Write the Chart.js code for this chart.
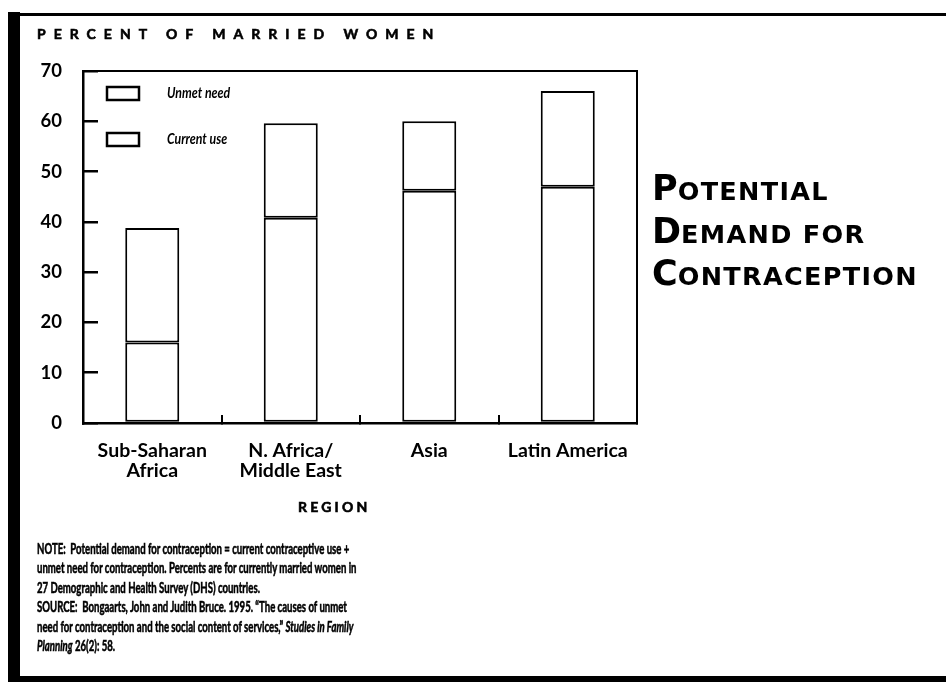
<!DOCTYPE html>
<html>
<head>
<meta charset="utf-8">
<script src="https://cdn.jsdelivr.net/npm/chart.js@4/dist/chart.umd.min.js"></script>
<style>
  html, body { margin: 0; padding: 0; background: #fff; }
  #wrap { position: relative; width: 946px; height: 682px; overflow: hidden; background: #fff; }
  #chartBox { position: absolute; left: 0; top: 0; width: 946px; height: 682px; }
  .frameL { position: absolute; left: 8px; top: 12px; width: 12px; height: 670px; background: #000; }
  .frameT { position: absolute; left: 18px; top: 13px; width: 928px; height: 3px; background: #000; }
  .frameB { position: absolute; left: 8px; top: 676px; width: 938px; height: 6px; background: #000; }
  .hdr { position: absolute; left: 37px; top: 25px; font-family: Lato, sans-serif; font-weight: bold; font-size: 14px; letter-spacing: 8px; color: #000; white-space: nowrap; -webkit-text-stroke: 0.6px #000; }
  .region { position: absolute; left: 298px; top: 498px; font-family: Lato, sans-serif; font-weight: bold; font-size: 14px; letter-spacing: 3.2px; color: #000; -webkit-text-stroke: 0.6px #000; }
  .rtitle { position: absolute; left: 652px; top: 167px; font-family: "DejaVu Sans", sans-serif; font-weight: bold; color: #000; white-space: nowrap; }
  .rtitle .ln { height: 42.5px; line-height: 42px; font-size: 35px; }
  .rtitle .b { font-size: 35px; }
  .rtitle .s { font-size: 25.5px; letter-spacing: 1.3px; }
  .notes { position: absolute; left: 37px; top: 539px; font-family: Lato, sans-serif; font-weight: bold; font-size: 15px; line-height: 19.4px; color: #000; white-space: nowrap; transform: scaleX(0.64); transform-origin: 0 0; -webkit-text-stroke: 0.55px #000; }
</style>
</head>
<body>
<div id="wrap">
  <div id="chartBox"><canvas id="c"></canvas></div>
  <div class="frameL"></div>
  <div class="frameT"></div>
  <div class="frameB"></div>
  <div class="hdr">PERCENT OF MARRIED WOMEN</div>
  <div class="region">REGION</div>
  <div class="rtitle">
    <div class="ln"><span class="b">P</span><span class="s">OTENTIAL</span></div>
    <div class="ln"><span class="b">D</span><span class="s">EMAND FOR</span></div>
    <div class="ln"><span class="b">C</span><span class="s">ONTRACEPTION</span></div>
  </div>
  <div class="notes">NOTE:&nbsp; Potential demand for contraception = current contraceptive use +<br>unmet need for contraception. Percents are for currently married women in<br>27 Demographic and Health Survey (DHS) countries.<br>SOURCE:&nbsp; Bongaarts, John and Judith Bruce. 1995. “The causes of unmet<br>need for contraception and the social content of services,” <i>Studies in Family<br>Planning</i> 26(2): 58.</div>
</div>
<script>
const categories = [["Sub-Saharan", "Africa"], ["N. Africa/", "Middle East"], "Asia", "Latin America"];
const currentUse = [16, 40.8, 46.2, 47];
const unmetNeed = [22.8, 18.8, 13.8, 19];
const yTicks = [0, 10, 20, 30, 40, 50, 60, 70];
const seriesNames = ["Current use", "Unmet need"];

const frameAndLegend = {
  id: 'frameAndLegend',
  afterDraw(chart) {
    const ctx = chart.ctx, a = chart.chartArea;
    ctx.save();
    ctx.strokeStyle = '#000';
    ctx.lineWidth = 2;
    ctx.beginPath();
    ctx.moveTo(a.left, a.top);
    ctx.lineTo(a.right, a.top);
    ctx.lineTo(a.right, a.bottom);
    ctx.stroke();
    const ds = chart.data.datasets;
    const order = [1, 0];
    ctx.font = 'italic bold 14.5px Lato, sans-serif';
    ctx.textBaseline = 'middle';
    order.forEach((idx, k) => {
      const y = a.top + 22 + k * 46;
      const x = a.left + 24;
      ctx.fillStyle = '#fff';
      ctx.fillRect(x, y - 6, 32, 13);
      ctx.lineWidth = 2.5;
      ctx.strokeRect(x, y - 6, 32, 13);
      ctx.fillStyle = '#000';
      ctx.save();
      ctx.translate(x + 60, y);
      ctx.scale(0.85, 1);
      ctx.fillText(ds[idx].label, 0, 0);
      ctx.restore();
    });
    ctx.restore();
  }
};

new Chart(document.getElementById('c'), {
  type: 'bar',
  data: {
    labels: categories,
    datasets: [
      { label: seriesNames[0], data: currentUse, backgroundColor: '#fff', borderColor: '#000', borderWidth: 2, borderSkipped: false },
      { label: seriesNames[1], data: unmetNeed, backgroundColor: '#fff', borderColor: '#000', borderWidth: 2, borderSkipped: false }
    ]
  },
  options: {
    responsive: true,
    maintainAspectRatio: false,
    animation: false,
    layout: { padding: { left: 20, right: 309, top: 71, bottom: 0 } },
    plugins: { legend: { display: false }, tooltip: { enabled: false }, title: { display: false } },
    datasets: { bar: { barPercentage: 0.39, categoryPercentage: 1.0 } },
    scales: {
      x: {
        stacked: true,
        afterFit(s) { s.height = 682 - 423; },
        grid: { display: true, offset: true, drawOnChartArea: false, drawTicks: true, tickLength: -8, color: '#000', lineWidth: 2 },
        border: { display: true, color: '#000', width: 2.5 },
        ticks: { color: '#000', padding: 26, font: { family: 'Lato, sans-serif', weight: 'bold', size: 19.5, lineHeight: 1.03 }, maxRotation: 0, autoSkip: false }
      },
      y: {
        stacked: true,
        min: 0, max: 70,
        afterFit(s) { s.width = 63; },
        afterBuildTicks(s) { s.ticks = yTicks.map(v => ({ value: v })); },
        grid: { display: true, drawOnChartArea: false, drawTicks: true, tickLength: -15, color: '#000', lineWidth: 2.5 },
        border: { display: true, color: '#000', width: 2.5 },
        ticks: { color: '#000', padding: 36, font: { family: 'Lato, sans-serif', weight: 'bold', size: 18.5 } }
      }
    }
  },
  plugins: [frameAndLegend]
});
</script>
</body>
</html>
